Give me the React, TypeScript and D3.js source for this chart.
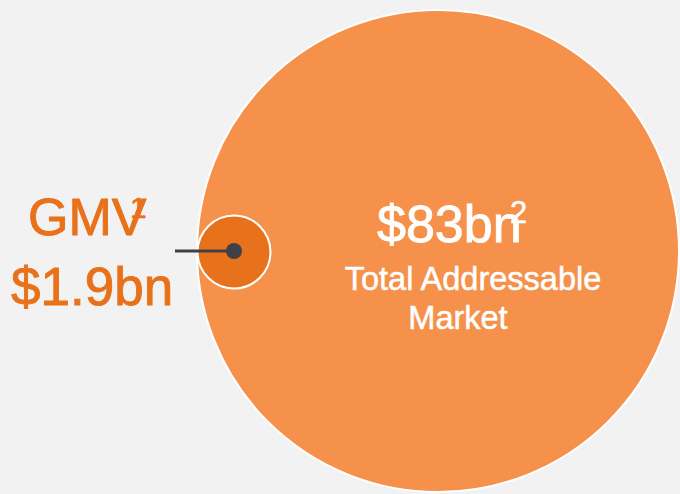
import React, { useEffect, useRef } from "react";
import * as d3 from "d3";

// market values in $bn
const labels = ["Total Addressable Market", "GMV"];
const values = [83, 1.9];
const valueLabels = ["$83bn", "$1.9bn"];
const footnotes = ["2", "1"];

const width = 680;
const height = 494;
const font = "'Liberation Sans', Arial, sans-serif";

const App = () => {
    const ref = useRef<SVGSVGElement | null>(null);

    useEffect(() => {
        const svg = d3.select(ref.current);
        svg.selectAll("*").remove();

        svg.append("rect")
            .attr("width", width)
            .attr("height", height)
            .attr("fill", "#f2f2f2");

        // bubble areas proportional to value
        const r = d3.scaleSqrt().domain([0, d3.max(values) as number]).range([0, 241]);

        const big = { x: 438, y: 251 };
        const small = { x: 234, y: 252 };

        svg.append("circle")
            .attr("cx", big.x)
            .attr("cy", big.y)
            .attr("r", r(values[0]))
            .attr("fill", "#f5914b")
            .attr("stroke", "#ffffff")
            .attr("stroke-width", 2);

        svg.append("circle")
            .attr("cx", small.x)
            .attr("cy", small.y)
            .attr("r", r(values[1]))
            .attr("fill", "#e8721b")
            .attr("stroke", "#ffffff")
            .attr("stroke-width", 2);

        // leader line + dot
        svg.append("line")
            .attr("x1", 175)
            .attr("x2", small.x)
            .attr("y1", 251)
            .attr("y2", 251)
            .attr("stroke", "#404148")
            .attr("stroke-width", 3);

        svg.append("circle")
            .attr("cx", small.x)
            .attr("cy", 251)
            .attr("r", 8)
            .attr("fill", "#404148");

        const addText = (x: number, y: number, size: number, color: string, txt: string, anchor = "start") =>
            svg.append("text")
                .attr("x", x)
                .attr("y", y)
                .attr("text-anchor", anchor)
                .attr("font-family", font)
                .attr("font-size", size)
                .attr("fill", color)
                .attr("stroke", color)
                .attr("stroke-width", size > 40 ? 0.9 : 0.5)
                .text(txt);

        // GMV label
        const orange = "#e8711a";
        addText(28, 235, 52, orange, labels[1]);
        addText(130, 218, 30, orange, footnotes[1]);
        addText(11, 305, 53, orange, valueLabels[1]);

        // TAM label
        addText(377, 242, 52, "#ffffff", valueLabels[0]);
        addText(510, 223, 31, "#ffffff", footnotes[0]);

        const words = labels[0].split(" ");
        addText(473, 290, 32.5, "#ffffff", words.slice(0, 2).join(" "), "middle");
        addText(458, 329, 32.5, "#ffffff", words[2], "middle");
    }, []);

    return (
        <svg
            ref={ref}
            width={width}
            height={height}
            style={{ position: "absolute", left: 0, top: 0, display: "block" }}
        />
    );
};

export default App;
